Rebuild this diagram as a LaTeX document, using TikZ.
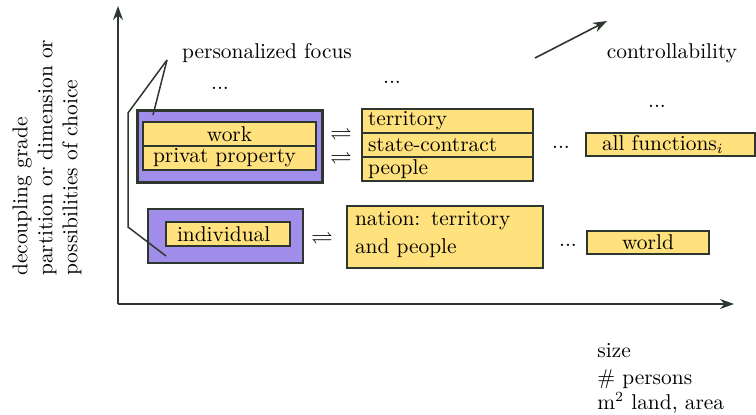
\documentclass[tikz,border=0pt]{standalone}
\usepackage{amsmath}
\usepackage{amssymb}
\usetikzlibrary{arrows.meta}

\definecolor{boxyellow}{RGB}{255,226,125}
\definecolor{boxpurple}{RGB}{160,142,234}
\definecolor{edge}{RGB}{45,55,45}

\begin{document}
\begin{tikzpicture}[x=0.5pt,y=-0.5pt,
  every node/.style={font=\fontsize{10.7pt}{12.5pt}\selectfont},
  ybox/.style={draw=edge,fill=boxyellow,line width=0.7pt,inner ysep=0pt,minimum height=12pt},
  pbox/.style={draw=edge,fill=boxpurple,inner sep=0pt},
  axis/.style={draw=edge,line width=0.8pt,-{Stealth[length=7pt,width=5pt]}},
  focusline/.style={draw=edge,line width=0.75pt}]
\useasboundingbox (0,0) rectangle (756,414);
% axes
\coordinate (O) at (118,304);
\coordinate (Y) at (118,6);
\coordinate (X) at (734,304);
\draw[axis] (O) -- (Y);
\draw[axis] (O) -- (X);
\coordinate (c0) at (535,58);
\coordinate (c1) at (607,21);
\draw[axis] (c0) -- (c1);
% axis texts
\node[rotate=90,anchor=north west,align=left,inner sep=0pt] (grade) at (12,276)
  {decoupling grade\\partition or dimension or\\possibilities of choice};
\node[anchor=north west,align=left,inner sep=0pt] (size) at (597,343)
  {size\\[1pt]\# persons\\[0pt]m$^2$ land, area};
\node (focus) at (267,53) {personalized focus};
\node (ctrl) at (672,53) {controllability};
% upper row
\node[pbox,line width=1.5pt,minimum width=92.5pt,minimum height=36pt] (persbox) at (229.5,146) {};
\node[ybox,text width=76.5pt,inner xsep=5pt,align=center] (work) at (229.5,134) {work};
\node[ybox,text width=76.5pt,inner xsep=5pt,align=left] (privat) at (229.5,158) {privat property};
\node (eq1) at (341,134) {$\rightleftharpoons$};
\node (eq2) at (341,158) {$\rightleftharpoons$};
\node[ybox,text width=79.5pt,inner xsep=3pt,align=left] (terr) at (447.5,121) {territory};
\node[ybox,text width=79.5pt,inner xsep=3pt,align=left] (state) at (447.5,145) {state-contract};
\node[ybox,text width=79.5pt,inner xsep=3pt,align=left] (people) at (447.5,169) {people};
\node (d1) at (561,147) {...};
\node[ybox,minimum height=11.5pt,text width=68.5pt,inner xsep=8pt,align=left] (allfun) at (670.5,144.5) {all functions$_i$};
% dots above
\node (d2) at (220,88) {...};
\node (d3) at (392,82) {...};
\node (d4) at (657,106) {...};
% lower row
\node[pbox,line width=0.6pt,minimum width=77.5pt,minimum height=27pt] (indbox) at (225.5,236) {};
\node[ybox,text width=51pt,inner xsep=5.5pt,align=left] (indiv) at (228,234) {individual};
\node (eq3) at (322,238) {$\rightleftharpoons$};
\node[ybox,minimum height=31pt,text width=90pt,inner xsep=4pt,align=left] (nation) at (445,237)
  {nation: territory\\[1.5pt]and people\\[-8pt]\mbox{}};
\node (d5) at (568,245) {...};
\node[ybox,minimum height=11.5pt,minimum width=61pt] (world) at (648,242.5) {world};
% lines from the focus label
\coordinate (apex) at (167,60);
\coordinate (bend) at (128,113);
\coordinate (knee) at (128,227);
\coordinate (in1) at (153,115);
\coordinate (in2) at (166,256);
\draw[focusline] (apex) -- (bend) -- (knee) -- (in2);
\draw[focusline] (apex) -- (in1);
\end{tikzpicture}
\end{document}
